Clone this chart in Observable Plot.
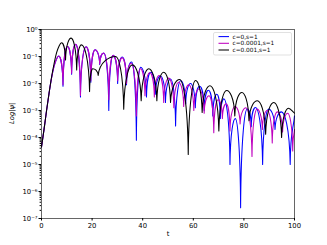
<!DOCTYPE html>
<html>
<head>
<meta charset="utf-8">
<script src="https://cdn.jsdelivr.net/npm/d3@7"></script>
<script src="https://cdn.jsdelivr.net/npm/@observablehq/plot@0.6"></script>
<style>
  html, body { margin: 0; padding: 0; background: #fff; }
  #wrap { position: relative; width: 327px; height: 245px; font-family: "DejaVu Sans", sans-serif; }
  #legend { position: absolute; left: 0; top: 0; }
</style>
</head>
<body>
<div id="wrap"></div>
<script>
// ---- data (t, log10|psi|) ----
const seriesNames = ["c=0,s=1", "c=0.0001,s=1", "c=0.001,s=1"];
const seriesColors = ["#0000ff", "#bf00bf", "#000000"];

const blueT = [0,1,2,3,4,5,6, 6.8,8.5,10.3,11.9,13.5,15.4,17.6,19.5,21.2,23.0,24.6,26.6,28.3,30.1,31.9,33.6,35.6,37.5,39.2,41.5,43.2,45.0,47.0,49.0,51.0,53.0,55.0,57.0,58.9,60.8,62.5,64.3,66.0,67.7,69.3,70.7,72.1,74.5,76.6,78.7,81.3,82.9,84.6,87.4,89.8,92.3,94.8,98.3,100];
const blueLog = [-4.35,-3.7,-3.0,-2.35,-1.78,-1.35,-1.08, -0.98,-2.1,-0.63,-1.66,-0.55,-2.5,-0.64,-1.95,-0.75,-1.3,-0.87,-3.0,-0.95,-2.0,-1.02,-2.05,-1.2,-4.1,-1.4,-2.5,-1.58,-2.4,-1.72,-2.7,-1.83,-3.57,-1.9,-2.75,-2.0,-2.9,-2.1,-3.0,-2.25,-3.2,-2.4,-3.3,-2.57,-5.0,-3.3,-6.6,-2.95,-3.6,-2.89,-5.0,-2.95,-3.7,-3.05,-5.0,-3.2];

const magT = [0,1,2,3,4,5,6, 6.8,8.5,10.3,11.9,13.5,15.4,17.6,19.5,21.2,23.0,24.6,26.6,28.3,30.1,31.9,33.6,35.5,37.5,39.1,40.9,42.8,44.6,46.5,48.3,50.3,52.3,54.2,56.2,58.2,60.2,62.2,64.3,66.2,68.1,69.8,71.5,73.0,74.5,76.5,78.5,80.8,83.2,85.2,87.3,89.2,91.2,93.2,95.3,97.3,99.3,100];
const magLog = [-4.35,-3.7,-3.0,-2.35,-1.78,-1.35,-1.08, -0.98,-2.05,-0.63,-1.62,-0.55,-2.44,-0.64,-1.9,-0.75,-1.28,-0.87,-2.6,-0.95,-1.9,-1.05,-2.0,-1.25,-3.2,-1.45,-2.45,-1.6,-2.5,-1.7,-2.7,-1.8,-2.9,-1.95,-2.85,-2.05,-3.0,-2.2,-3.1,-2.45,-3.82,-2.6,-3.3,-2.75,-3.76,-2.85,-3.5,-2.9,-4.7,-2.95,-3.7,-3.0,-4.2,-3.05,-3.8,-3.1,-4.5,-3.7];

const blackT = [0,1,2,3,4,5,6,7,7.9,9.5,11.7,13.9,15.8,19.0,20.3,22.4,29.3,32.5,35.9,39.4,42.4,45.6,48.3,51.0,54.6,58.0,60.9,63.5,66.6,70.1,73.2,76.4,79.2,82.0,85.3,88.6,91.8,94.9,97.6,100];
const blackLog = [-4.35,-3.7,-3.0,-2.35,-1.75,-1.25,-0.85,-0.6,-0.49,-1.13,-0.32,-1.5,-0.57,-2.3,-1.45,-1.7,-1.0,-2.95,-1.31,-2.64,-1.45,-2.64,-1.58,-2.7,-1.85,-4.63,-1.89,-3.07,-2.08,-3.76,-2.26,-3.2,-2.33,-3.38,-2.64,-3.88,-2.7,-4.0,-2.92,-3.1];

const xTicks = [0, 20, 40, 60, 80, 100];
const yExponents = [0, -1, -2, -3, -4, -5, -6, -7];

// ---- build table ----
function rows(ts, logs, name) { return ts.map((t, i) => ({t, v: Math.pow(10, logs[i]), s: name})); }
const data = [
  ...rows(blueT, blueLog, seriesNames[0]),
  ...rows(magT, magLog, seriesNames[1]),
  ...rows(blackT, blackLog, seriesNames[2])
];

// curve: rounded tops at local maxima, sharp cusps at local minima
function archCurve(context) {
  let xs = [], ys = [];
  return {
    areaStart() {}, areaEnd() {},
    lineStart() { xs = []; ys = []; },
    point(x, y) { xs.push(+x); ys.push(+y); },
    lineEnd() {
      const n = xs.length; if (!n) return;
      context.moveTo(xs[0], ys[0]);
      const kind = i => (i <= 0 || i >= n - 1) ? 0
        : (ys[i] < ys[i-1] && ys[i] < ys[i+1]) ? 1
        : (ys[i] > ys[i-1] && ys[i] > ys[i+1]) ? -1 : 0;
      const slope = i => { const a = Math.max(0, i-1), b = Math.min(n-1, i+1); return (ys[b]-ys[a])/(xs[b]-xs[a]); };
      for (let i = 0; i < n - 1; i++) {
        const x0 = xs[i], y0 = ys[i], x1 = xs[i+1], y1 = ys[i+1], h = x1 - x0;
        const k0 = kind(i), k1 = kind(i+1);
        let c1x, c1y, c2x, c2y;
        if (k0 === 1) { c1x = x0 + h/3; c1y = y0; }
        else if (k0 === -1) { c1x = x0 + h*0.08; c1y = y0 + (y1 - y0)*0.75; }
        else { const m = slope(i); c1x = x0 + h/3; c1y = y0 + m*h/3; }
        if (k1 === 1) { c2x = x1 - h/3; c2y = y1; }
        else if (k1 === -1) { c2x = x1 - h*0.08; c2y = y1 + (y0 - y1)*0.75; }
        else { const m = slope(i+1); c2x = x1 - h/3; c2y = y1 - m*h/3; }
        context.bezierCurveTo(c1x, c1y, c2x, c2y, x1, y1);
      }
    }
  };
}

const sup = {"0":"⁰","1":"¹","2":"²","3":"³","4":"⁴","5":"⁵","6":"⁶","7":"⁷","8":"⁸","9":"⁹","-":"⁻"};
const fmtPow = v => "10" + String(Math.round(Math.log10(v))).split("").map(c => sup[c]).join("");
const majorY = yExponents.map(e => Math.pow(10, e));
const minorY = [];
for (let e = -7; e < 0; e++) for (let k = 2; k <= 9; k++) minorY.push(k * Math.pow(10, e));

const chart = Plot.plot({
  width: 327, height: 245,
  marginLeft: 41, marginRight: 33, marginTop: 29, marginBottom: 27,
  style: {fontFamily: "DejaVu Sans, sans-serif", fontSize: "6.8px", color: "#000", background: "#fff"},
  x: {domain: [0, 100]},
  y: {type: "log", domain: [1e-7, 1]},
  color: {domain: seriesNames, range: seriesColors},
  marks: [
    Plot.line(data, {x: "t", y: "v", z: "s", stroke: "s", strokeWidth: 1.05, curve: archCurve}),
    Plot.axisX({ticks: xTicks, tickSize: 2.5, tickPadding: 2, label: null, tickFormat: d => String(d), fontSize: 6.8}),
    Plot.axisY({ticks: majorY, tickSize: 2.5, tickPadding: 1.5, label: null, tickFormat: fmtPow, fontSize: 6.8}),
    Plot.axisY({ticks: minorY, tickSize: 1.4, label: null, tickFormat: () => ""}),
    Plot.frame({stroke: "#000", strokeWidth: 0.6}),
    Plot.text(["t"], {frameAnchor: "bottom", dy: 17, text: d => d, fontSize: 6.8}),
    Plot.text(["Log|ψ|"], {frameAnchor: "left", dx: -30, rotate: -90, text: d => d, fontSize: 6.8, fontStyle: "italic"})
  ]
});

const wrap = document.getElementById("wrap");
wrap.appendChild(chart);

// legend (top-right inside the axes)
const ns = "http://www.w3.org/2000/svg";
const leg = document.createElementNS(ns, "svg");
leg.setAttribute("id", "legend");
leg.setAttribute("width", 327); leg.setAttribute("height", 245);
const box = document.createElementNS(ns, "rect");
box.setAttribute("x", 213.5); box.setAttribute("y", 32.5); box.setAttribute("width", 78); box.setAttribute("height", 22.5);
box.setAttribute("rx", 1.5); box.setAttribute("fill", "#fff"); box.setAttribute("fill-opacity", 0.8);
box.setAttribute("stroke", "#cccccc"); box.setAttribute("stroke-width", 0.6);
leg.appendChild(box);
seriesNames.forEach((name, i) => {
  const y = 36.6 + i * 6.7;
  const ln = document.createElementNS(ns, "line");
  ln.setAttribute("x1", 218.5); ln.setAttribute("x2", 229); ln.setAttribute("y1", y); ln.setAttribute("y2", y);
  ln.setAttribute("stroke", seriesColors[i]); ln.setAttribute("stroke-width", 1.05);
  leg.appendChild(ln);
  const tx = document.createElementNS(ns, "text");
  tx.setAttribute("x", 232.5); tx.setAttribute("y", y); tx.setAttribute("dy", "0.35em");
  tx.setAttribute("font-size", "5.8px"); tx.setAttribute("font-family", "DejaVu Sans, sans-serif");
  tx.textContent = name;
  leg.appendChild(tx);
});
wrap.appendChild(leg);
</script>
</body>
</html>
